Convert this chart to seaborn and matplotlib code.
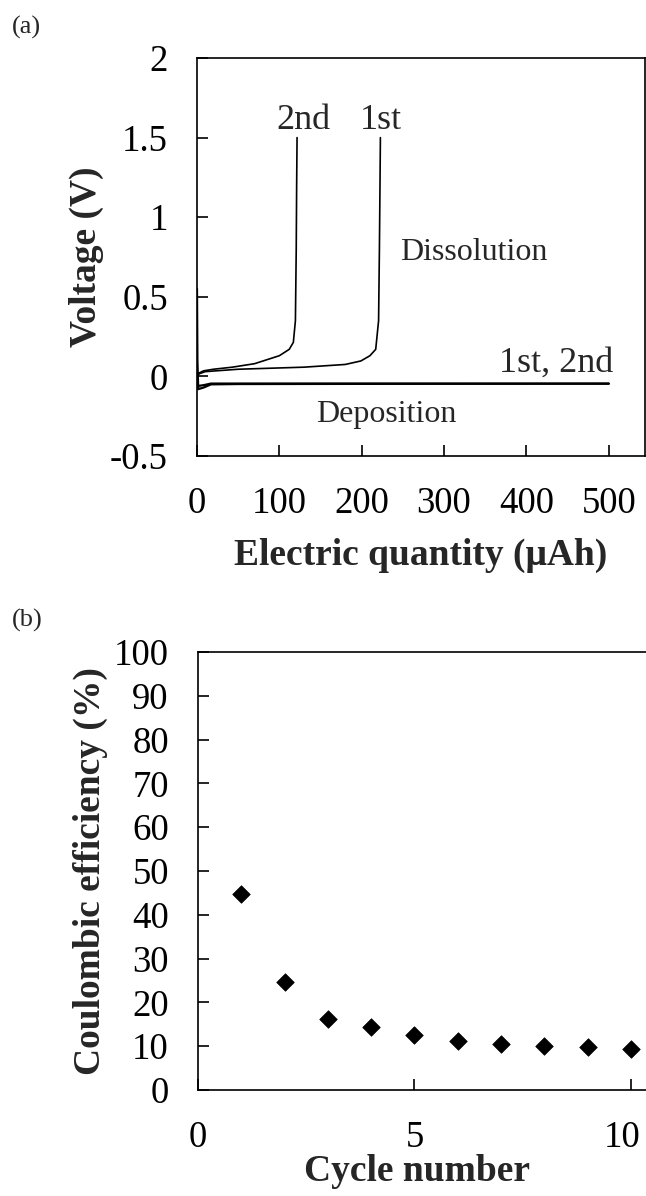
import matplotlib
matplotlib.use("Agg")
import matplotlib.pyplot as plt
import matplotlib.transforms as mtransforms
import seaborn as sns

# ---- data (a) ----
dis2_q = [0, 2, 8, 20, 43, 70, 100, 112, 117, 119.5, 120.5, 121, 121.5]
dis2_v = [-0.02, 0.02, 0.035, 0.045, 0.058, 0.08, 0.13, 0.17, 0.214, 0.35, 0.8, 1.2, 1.5]
dis1_q = [0, 2, 10, 50, 130, 180, 199, 210, 217, 220.5, 221.5, 222.2, 222.7]
dis1_v = [-0.02, 0.015, 0.03, 0.045, 0.058, 0.075, 0.097, 0.13, 0.17, 0.35, 0.8, 1.2, 1.5]
dep1_q = [0, 0.5, 1.5, 8, 17, 50, 200, 500]
dep1_v = [0.55, 0.1, -0.08, -0.07, -0.05, -0.048, -0.047, -0.045]
dep2_q = [0, 0.5, 1.5, 8, 17, 50, 200, 500]
dep2_v = [0.0, -0.03, -0.06, -0.055, -0.045, -0.045, -0.045, -0.046]
a_yticks = [-0.5, 0, 0.5, 1, 1.5, 2]
a_yticklabels = ["-0.5", "0", "0.5", "1", "1.5", "2"]
a_xticks = [0, 100, 200, 300, 400, 500]

# ---- data (b) ----
cycles = [1, 2, 3, 4, 5, 6, 7, 8, 9, 10]
efficiency = [44.7, 24.6, 16.3, 14.4, 12.6, 11.3, 10.6, 10.0, 9.8, 9.4]
b_yticks = list(range(0, 101, 10))
b_xticks = [0, 5, 10]

sns.set_theme(style="white")
plt.rcParams['font.family'] = ['Liberation Serif', 'DejaVu Serif']
plt.rcParams['axes.unicode_minus'] = False

fig = plt.figure(figsize=(6.46, 11.96), dpi=100)
W, H = 646, 1196

def axpos(l, t, r, b):
    return [l / W, 1 - b / H, (r - l) / W, (b - t) / H]

TS = 26.5
LS = 27
AS = 26
ax1 = fig.add_axes(axpos(197, 58, 645, 456))
ax2 = fig.add_axes(axpos(198, 652, 662, 1090))

# (a)
for q, v, lw in [(dis2_q, dis2_v, 1.2), (dis1_q, dis1_v, 1.2),
                 (dep1_q, dep1_v, 1.6), (dep2_q, dep2_v, 1.6)]:
    sns.lineplot(x=q, y=v, ax=ax1, sort=False, estimator=None,
                 color="black", linewidth=lw)
ax1.set_xlim(0, 544)
ax1.set_ylim(-0.5, 2)
ax1.set_yticks(a_yticks)
ax1.set_yticklabels(a_yticklabels)
ax1.set_xticks(a_xticks)
ax1.set_xticklabels([str(t) for t in a_xticks])
ax1.tick_params(axis='both', direction='in', length=8, width=1.2,
                labelsize=TS, colors='black')
ax1.tick_params(axis='y', pad=21, left=True)
ax1.tick_params(axis='x', pad=22, bottom=True)
ax1.set_xlabel("Electric quantity (μAh)", fontsize=LS, fontweight='bold', labelpad=12)
ax1.set_ylabel("Voltage (V)", fontsize=LS, fontweight='bold', labelpad=4)
ax1.text(129, 1.61, "2nd", fontsize=AS, ha='center', va='center')
ax1.text(223, 1.61, "1st", fontsize=AS, ha='center', va='center')
ax1.text(336, 0.78, "Dissolution", fontsize=23, ha='center', va='center')
ax1.text(436, 0.08, "1st, 2nd", fontsize=AS, ha='center', va='center')
ax1.text(230, -0.24, "Deposition", fontsize=23, ha='center', va='center')

# (b)
sns.scatterplot(x=cycles, y=efficiency, ax=ax2, marker='D', s=80,
                color='black', edgecolor='black', linewidth=0.5)
ax2.set_xlim(0, (662 - 198) / 43.3)
ax2.set_ylim(0, 100)
ax2.set_yticks(b_yticks)
ax2.set_xticks(b_xticks)
ax2.set_xticklabels([str(t) for t in b_xticks])
ax2.tick_params(axis='both', direction='in', length=8, width=1.2,
                labelsize=TS, colors='black')
ax2.tick_params(axis='y', pad=21, left=True)
ax2.tick_params(axis='x', pad=22, bottom=True)
ax2.set_xlabel("Cycle number", fontsize=LS, fontweight='bold', labelpad=2)
ax2.set_ylabel("Coulombic efficiency (%)", fontsize=LS, fontweight='bold', labelpad=4)
ax2.xaxis.set_label_coords((417 - 198) / (662 - 198), -0.145)

# keep the last tick label inside the canvas (reference shows it nudged left)
last = ax2.get_xticklabels()[-1]
last.set_transform(last.get_transform() +
                   mtransforms.ScaledTranslation(-9 / 100, 0, fig.dpi_scale_trans))

for ax in (ax1, ax2):
    for s in ax.spines.values():
        s.set_color('black')
        s.set_linewidth(1.2)
    ax.grid(False)

fig.text(12 / W, 1 - 27 / H, "(a)", fontsize=19, va='center', ha='left')
fig.text(12 / W, 1 - 620 / H, "(b)", fontsize=19, va='center', ha='left')

fig.savefig("out.png", dpi=100)
